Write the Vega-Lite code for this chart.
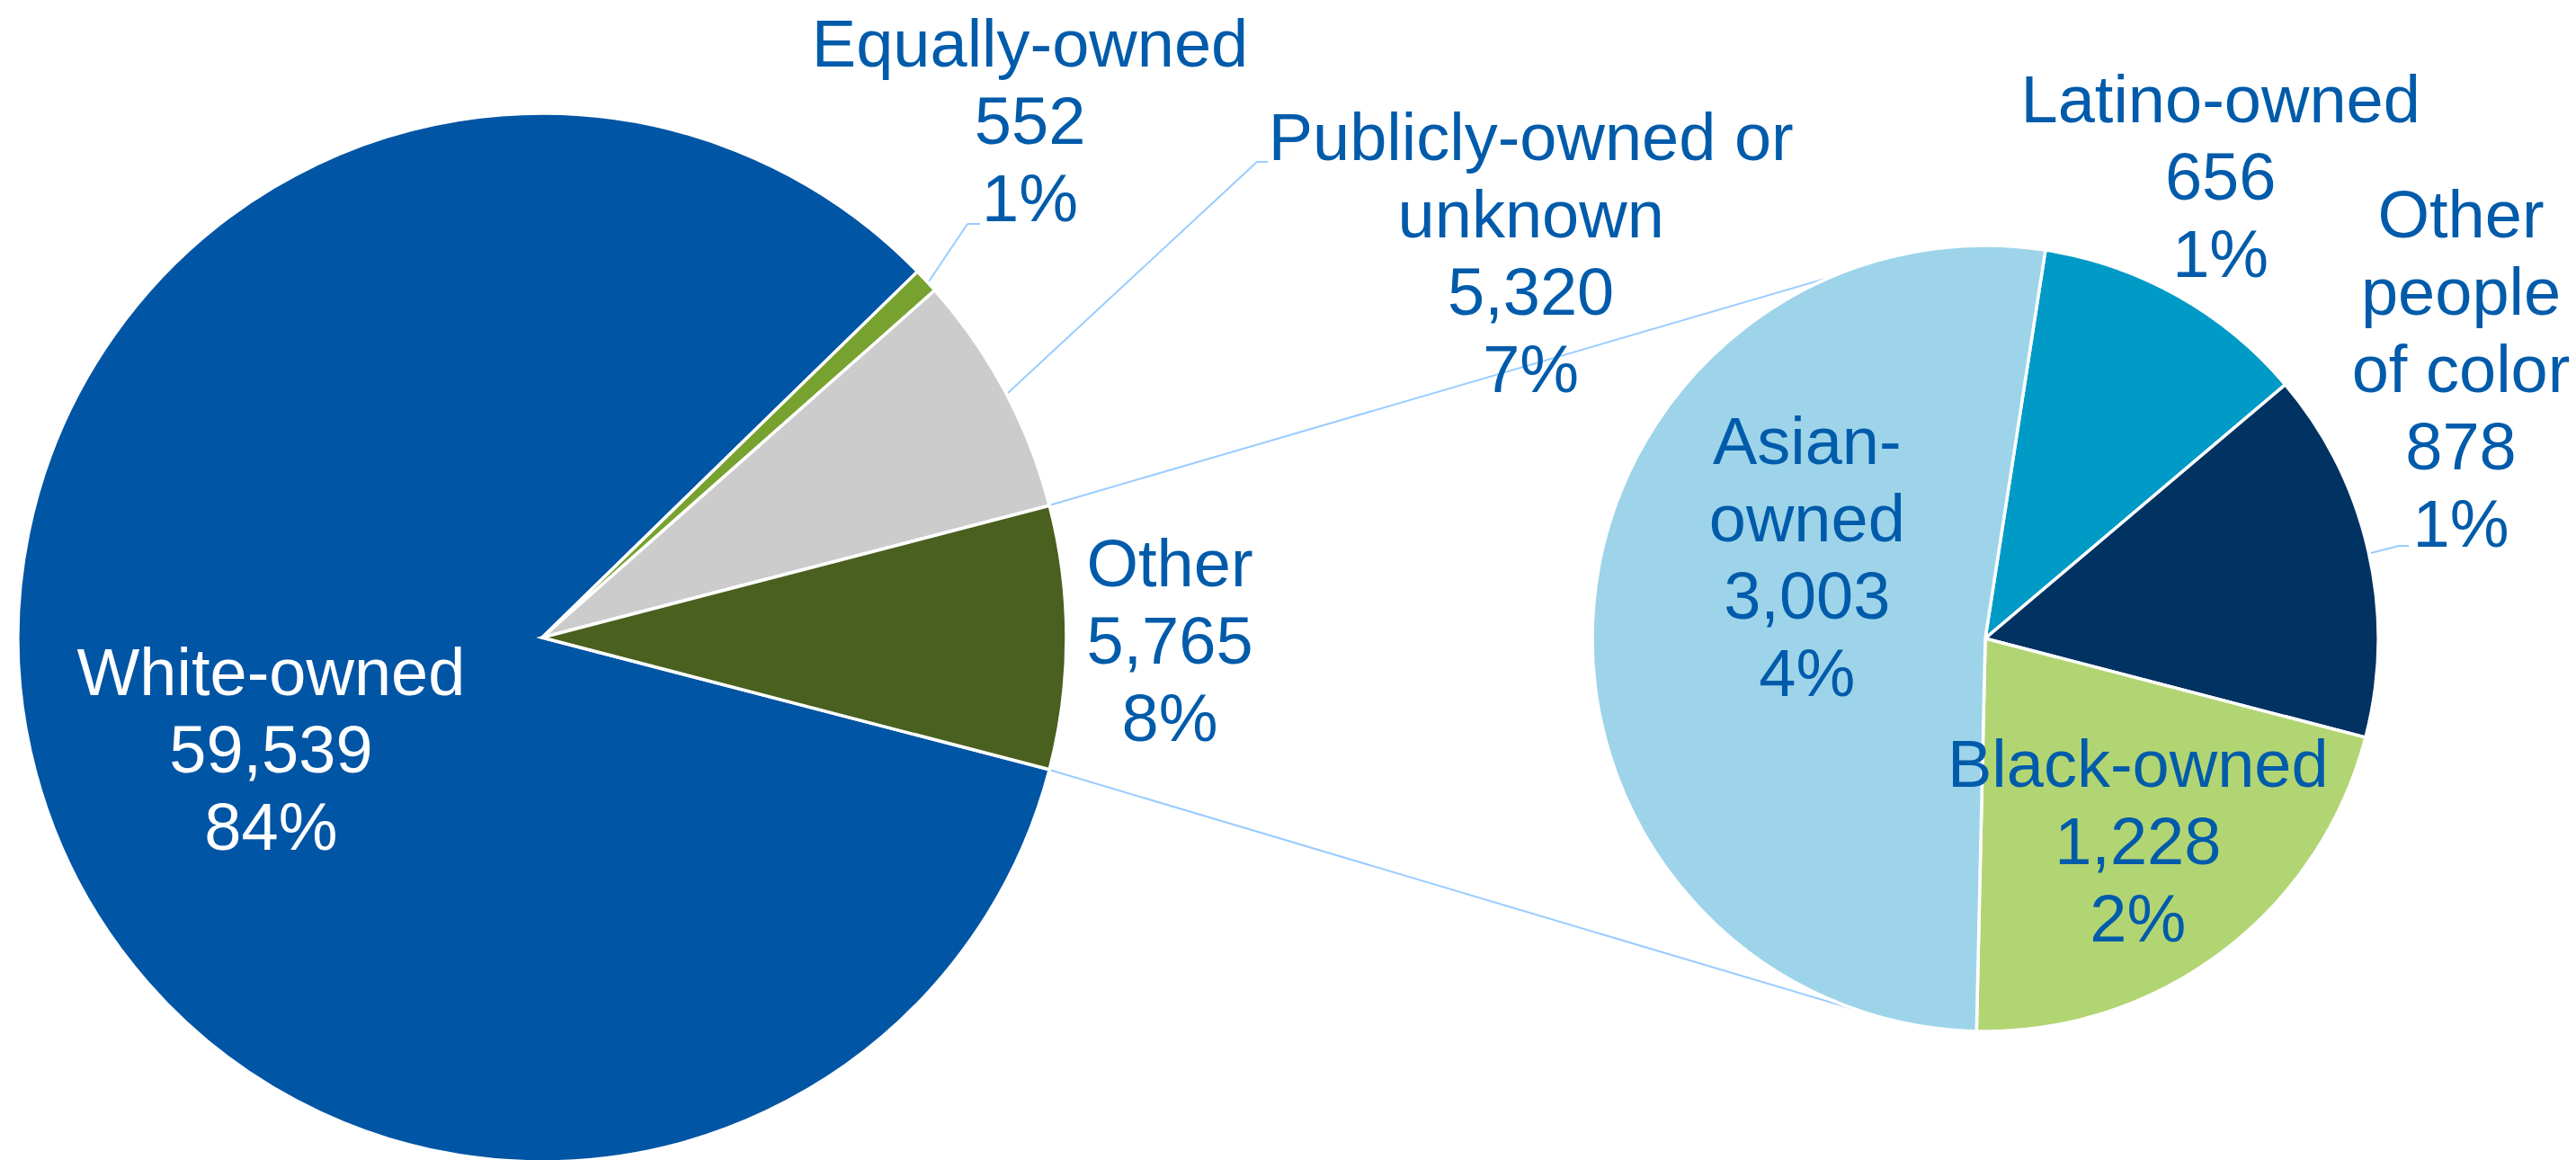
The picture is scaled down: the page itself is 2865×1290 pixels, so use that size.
{
  "$schema": "https://vega.github.io/schema/vega-lite/v6.json",
  "width": 2865,
  "height": 1290,
  "autosize": "none",
  "padding": 0,
  "background": "#ffffff",
  "config": {"view": {"stroke": null}},
  "data": {
    "values": [
      {"pie": "all", "cat": "White-owned", "value": 59539, "pct": "84%"},
      {"pie": "all", "cat": "Equally-owned", "value": 552, "pct": "1%"},
      {"pie": "all", "cat": "Publicly-owned or\nunknown", "value": 5320, "pct": "7%"},
      {"pie": "all", "cat": "Other", "value": 5765, "pct": "8%"},
      {"pie": "other", "cat": "Latino-owned", "value": 656, "pct": "1%"},
      {"pie": "other", "cat": "Other\npeople\nof color", "value": 878, "pct": "1%"},
      {"pie": "other", "cat": "Black-owned", "value": 1228, "pct": "2%"},
      {"pie": "other", "cat": "Asian-\nowned", "value": 3003, "pct": "4%"}
    ]
  },
  "resolve": {"scale": {"theta": "independent"}},
  "layer": [
    {
      "data": {"values": [{}]},
      "mark": {"type": "rule", "color": "#99CCFF", "strokeWidth": 2},
      "encoding": {
        "x": {"datum": 1167, "type": "quantitative", "scale": {"domain": [0, 2865], "nice": false, "zero": false}, "axis": null},
        "y": {"datum": 562, "type": "quantitative", "scale": {"domain": [0, 1290], "reverse": true, "nice": false, "zero": false}, "axis": null},
        "x2": {"datum": 2064},
        "y2": {"datum": 300}
      }
    },
    {
      "data": {"values": [{}]},
      "mark": {"type": "rule", "color": "#99CCFF", "strokeWidth": 2},
      "encoding": {
        "x": {"datum": 1167, "type": "quantitative", "scale": {"domain": [0, 2865], "nice": false, "zero": false}, "axis": null},
        "y": {"datum": 856, "type": "quantitative", "scale": {"domain": [0, 1290], "reverse": true, "nice": false, "zero": false}, "axis": null},
        "x2": {"datum": 2064},
        "y2": {"datum": 1123}
      }
    },
    {
      "data": {"values": [{}]},
      "mark": {"type": "rule", "color": "#99CCFF", "strokeWidth": 2},
      "encoding": {
        "x": {"datum": 1033, "type": "quantitative", "scale": {"domain": [0, 2865], "nice": false, "zero": false}, "axis": null},
        "y": {"datum": 313, "type": "quantitative", "scale": {"domain": [0, 1290], "reverse": true, "nice": false, "zero": false}, "axis": null},
        "x2": {"datum": 1076},
        "y2": {"datum": 249}
      }
    },
    {
      "data": {"values": [{}]},
      "mark": {"type": "rule", "color": "#99CCFF", "strokeWidth": 2},
      "encoding": {
        "x": {"datum": 1076, "type": "quantitative", "scale": {"domain": [0, 2865], "nice": false, "zero": false}, "axis": null},
        "y": {"datum": 249, "type": "quantitative", "scale": {"domain": [0, 1290], "reverse": true, "nice": false, "zero": false}, "axis": null},
        "x2": {"datum": 1090},
        "y2": {"datum": 249}
      }
    },
    {
      "data": {"values": [{}]},
      "mark": {"type": "rule", "color": "#99CCFF", "strokeWidth": 2},
      "encoding": {
        "x": {"datum": 1121, "type": "quantitative", "scale": {"domain": [0, 2865], "nice": false, "zero": false}, "axis": null},
        "y": {"datum": 437, "type": "quantitative", "scale": {"domain": [0, 1290], "reverse": true, "nice": false, "zero": false}, "axis": null},
        "x2": {"datum": 1398},
        "y2": {"datum": 180}
      }
    },
    {
      "data": {"values": [{}]},
      "mark": {"type": "rule", "color": "#99CCFF", "strokeWidth": 2},
      "encoding": {
        "x": {"datum": 1398, "type": "quantitative", "scale": {"domain": [0, 2865], "nice": false, "zero": false}, "axis": null},
        "y": {"datum": 180, "type": "quantitative", "scale": {"domain": [0, 1290], "reverse": true, "nice": false, "zero": false}, "axis": null},
        "x2": {"datum": 1410},
        "y2": {"datum": 180}
      }
    },
    {
      "data": {"values": [{}]},
      "mark": {"type": "rule", "color": "#99CCFF", "strokeWidth": 2},
      "encoding": {
        "x": {"datum": 2637, "type": "quantitative", "scale": {"domain": [0, 2865], "nice": false, "zero": false}, "axis": null},
        "y": {"datum": 615, "type": "quantitative", "scale": {"domain": [0, 1290], "reverse": true, "nice": false, "zero": false}, "axis": null},
        "x2": {"datum": 2668},
        "y2": {"datum": 607}
      }
    },
    {
      "data": {"values": [{}]},
      "mark": {"type": "rule", "color": "#99CCFF", "strokeWidth": 2},
      "encoding": {
        "x": {"datum": 2668, "type": "quantitative", "scale": {"domain": [0, 2865], "nice": false, "zero": false}, "axis": null},
        "y": {"datum": 607, "type": "quantitative", "scale": {"domain": [0, 1290], "reverse": true, "nice": false, "zero": false}, "axis": null},
        "x2": {"datum": 2679},
        "y2": {"datum": 607}
      }
    },
    {
      "transform": [
        {"filter": "datum.pie === 'all'"},
        {"window": [{"op": "row_number", "as": "idx"}]}
      ],
      "mark": {"type": "arc", "x": 603, "y": 709, "outerRadius": 583, "stroke": "#ffffff", "strokeWidth": 3.5},
      "encoding": {
        "theta": {"field": "value", "type": "quantitative", "stack": true, "scale": {"domain": [0, 71176], "range": [1.82527, 8.10846]}},
        "order": {"field": "idx", "type": "quantitative"},
        "color": {"field": "cat", "type": "nominal", "legend": null,
          "scale": {"domain": ["White-owned", "Equally-owned", "Publicly-owned or\nunknown", "Other", "Latino-owned", "Other\npeople\nof color", "Black-owned", "Asian-\nowned"],
                    "range": ["#0055A5", "#78A22F", "#CCCCCC", "#4A601F", "#009AC7", "#003262", "#B2D573", "#9DD4EA"]}}
      }
    },
    {
      "transform": [
        {"filter": "datum.pie === 'other'"},
        {"window": [{"op": "row_number", "as": "idx"}]}
      ],
      "mark": {"type": "arc", "x": 2208, "y": 710, "outerRadius": 437, "stroke": "#ffffff", "strokeWidth": 3.5},
      "encoding": {
        "theta": {"field": "value", "type": "quantitative", "stack": true, "scale": {"domain": [0, 5765], "range": [0.15359, 6.43678]}},
        "order": {"field": "idx", "type": "quantitative"},
        "color": {"field": "cat", "type": "nominal", "legend": null,
          "scale": {"domain": ["White-owned", "Equally-owned", "Publicly-owned or\nunknown", "Other", "Latino-owned", "Other\npeople\nof color", "Black-owned", "Asian-\nowned"],
                    "range": ["#0055A5", "#78A22F", "#CCCCCC", "#4A601F", "#009AC7", "#003262", "#B2D573", "#9DD4EA"]}}
      }
    },
    {
      "transform": [
        {"filter": "datum.pie === 'all'"},
        {"window": [{"op": "row_number", "as": "idx"}]},
        {"calculate": "datum.cat + '\\n' + format(datum.value, ',') + '\\n' + datum.pct", "as": "label"}
      ],
      "mark": {"type": "text", "x": 603, "y": 709, "radius": 312, "dx": 0, "dy": -38, "align": "center", "baseline": "middle", "font": "Liberation Sans", "fontSize": 74, "lineHeight": 86, "lineBreak": "\n", "color": "#ffffff"},
      "encoding": {
        "theta": {"field": "value", "type": "quantitative", "stack": true, "scale": {"domain": [0, 71176], "range": [1.82527, 8.10846]}},
        "order": {"field": "idx", "type": "quantitative"},
        "detail": {"field": "cat", "type": "nominal"},
        "text": {"condition": {"test": "datum.idx === 1", "field": "label", "type": "nominal"}, "value": ""}
      }
    },
    {
      "transform": [
        {"filter": "datum.pie === 'all'"},
        {"window": [{"op": "row_number", "as": "idx"}]},
        {"calculate": "datum.cat + '\\n' + format(datum.value, ',') + '\\n' + datum.pct", "as": "label"}
      ],
      "mark": {"type": "text", "x": 603, "y": 709, "radius": 780, "dx": -29, "dy": -126, "align": "center", "baseline": "middle", "font": "Liberation Sans", "fontSize": 74, "lineHeight": 86, "lineBreak": "\n", "color": "#005BAA"},
      "encoding": {
        "theta": {"field": "value", "type": "quantitative", "stack": true, "scale": {"domain": [0, 71176], "range": [1.82527, 8.10846]}},
        "order": {"field": "idx", "type": "quantitative"},
        "detail": {"field": "cat", "type": "nominal"},
        "text": {"condition": {"test": "datum.idx === 2", "field": "label", "type": "nominal"}, "value": ""}
      }
    },
    {
      "transform": [
        {"filter": "datum.pie === 'all'"},
        {"window": [{"op": "row_number", "as": "idx"}]},
        {"calculate": "datum.cat + '\\n' + format(datum.value, ',') + '\\n' + datum.pct", "as": "label"}
      ],
      "mark": {"type": "text", "x": 603, "y": 709, "radius": 1000, "dx": 217, "dy": -83, "align": "center", "baseline": "middle", "font": "Liberation Sans", "fontSize": 74, "lineHeight": 86, "lineBreak": "\n", "color": "#005BAA"},
      "encoding": {
        "theta": {"field": "value", "type": "quantitative", "stack": true, "scale": {"domain": [0, 71176], "range": [1.82527, 8.10846]}},
        "order": {"field": "idx", "type": "quantitative"},
        "detail": {"field": "cat", "type": "nominal"},
        "text": {"condition": {"test": "datum.idx === 3", "field": "label", "type": "nominal"}, "value": ""}
      }
    },
    {
      "transform": [
        {"filter": "datum.pie === 'all'"},
        {"window": [{"op": "row_number", "as": "idx"}]},
        {"calculate": "datum.cat + '\\n' + format(datum.value, ',') + '\\n' + datum.pct", "as": "label"}
      ],
      "mark": {"type": "text", "x": 603, "y": 709, "radius": 698, "dx": 0, "dy": -79, "align": "center", "baseline": "middle", "font": "Liberation Sans", "fontSize": 74, "lineHeight": 86, "lineBreak": "\n", "color": "#005BAA"},
      "encoding": {
        "theta": {"field": "value", "type": "quantitative", "stack": true, "scale": {"domain": [0, 71176], "range": [1.82527, 8.10846]}},
        "order": {"field": "idx", "type": "quantitative"},
        "detail": {"field": "cat", "type": "nominal"},
        "text": {"condition": {"test": "datum.idx === 4", "field": "label", "type": "nominal"}, "value": ""}
      }
    },
    {
      "transform": [
        {"filter": "datum.pie === 'other'"},
        {"window": [{"op": "row_number", "as": "idx"}]},
        {"calculate": "datum.cat + '\\n' + format(datum.value, ',') + '\\n' + datum.pct", "as": "label"}
      ],
      "mark": {"type": "text", "x": 2208, "y": 710, "radius": 580, "dx": -22, "dy": -90, "align": "center", "baseline": "middle", "font": "Liberation Sans", "fontSize": 74, "lineHeight": 86, "lineBreak": "\n", "color": "#005BAA"},
      "encoding": {
        "theta": {"field": "value", "type": "quantitative", "stack": true, "scale": {"domain": [0, 5765], "range": [0.15359, 6.43678]}},
        "order": {"field": "idx", "type": "quantitative"},
        "detail": {"field": "cat", "type": "nominal"},
        "text": {"condition": {"test": "datum.idx === 1", "field": "label", "type": "nominal"}, "value": ""}
      }
    },
    {
      "transform": [
        {"filter": "datum.pie === 'other'"},
        {"window": [{"op": "row_number", "as": "idx"}]},
        {"calculate": "datum.cat + '\\n' + format(datum.value, ',') + '\\n' + datum.pct", "as": "label"}
      ],
      "mark": {"type": "text", "x": 2208, "y": 710, "radius": 560, "dx": -17, "dy": -344, "align": "center", "baseline": "middle", "font": "Liberation Sans", "fontSize": 74, "lineHeight": 86, "lineBreak": "\n", "color": "#005BAA"},
      "encoding": {
        "theta": {"field": "value", "type": "quantitative", "stack": true, "scale": {"domain": [0, 5765], "range": [0.15359, 6.43678]}},
        "order": {"field": "idx", "type": "quantitative"},
        "detail": {"field": "cat", "type": "nominal"},
        "text": {"condition": {"test": "datum.idx === 2", "field": "label", "type": "nominal"}, "value": ""}
      }
    },
    {
      "transform": [
        {"filter": "datum.pie === 'other'"},
        {"window": [{"op": "row_number", "as": "idx"}]},
        {"calculate": "datum.cat + '\\n' + format(datum.value, ',') + '\\n' + datum.pct", "as": "label"}
      ],
      "mark": {"type": "text", "x": 2208, "y": 710, "radius": 285, "dx": -2, "dy": -84, "align": "center", "baseline": "middle", "font": "Liberation Sans", "fontSize": 74, "lineHeight": 86, "lineBreak": "\n", "color": "#005BAA"},
      "encoding": {
        "theta": {"field": "value", "type": "quantitative", "stack": true, "scale": {"domain": [0, 5765], "range": [0.15359, 6.43678]}},
        "order": {"field": "idx", "type": "quantitative"},
        "detail": {"field": "cat", "type": "nominal"},
        "text": {"condition": {"test": "datum.idx === 3", "field": "label", "type": "nominal"}, "value": ""}
      }
    },
    {
      "transform": [
        {"filter": "datum.pie === 'other'"},
        {"window": [{"op": "row_number", "as": "idx"}]},
        {"calculate": "datum.cat + '\\n' + format(datum.value, ',') + '\\n' + datum.pct", "as": "label"}
      ],
      "mark": {"type": "text", "x": 2208, "y": 710, "radius": 199, "dx": 0, "dy": -199, "align": "center", "baseline": "middle", "font": "Liberation Sans", "fontSize": 74, "lineHeight": 86, "lineBreak": "\n", "color": "#005BAA"},
      "encoding": {
        "theta": {"field": "value", "type": "quantitative", "stack": true, "scale": {"domain": [0, 5765], "range": [0.15359, 6.43678]}},
        "order": {"field": "idx", "type": "quantitative"},
        "detail": {"field": "cat", "type": "nominal"},
        "text": {"condition": {"test": "datum.idx === 4", "field": "label", "type": "nominal"}, "value": ""}
      }
    }
  ]
}
